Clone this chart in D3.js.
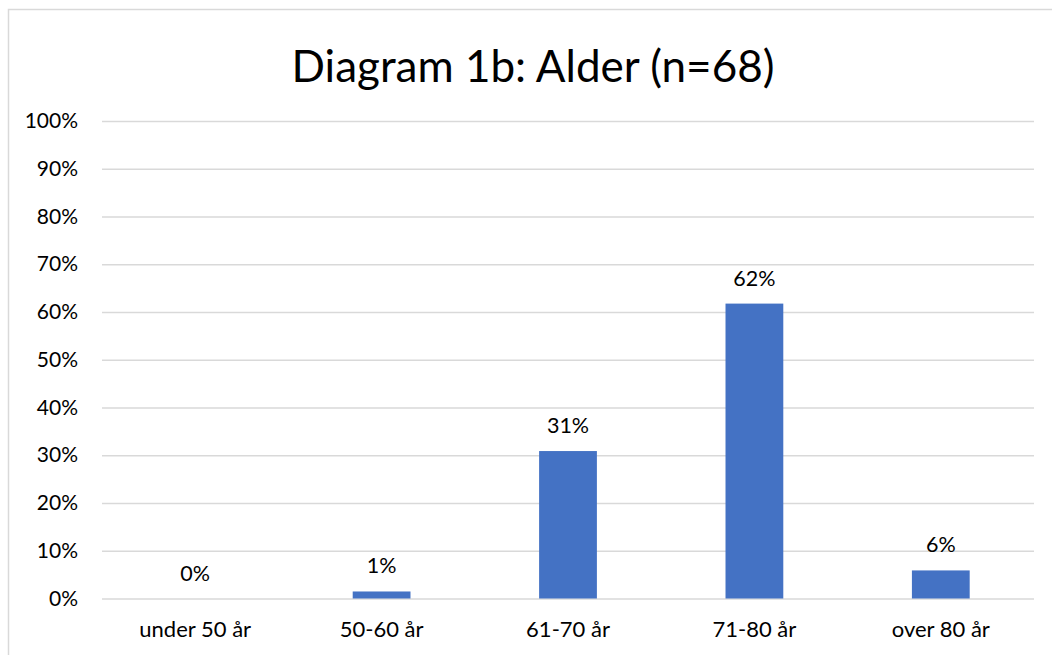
<!DOCTYPE html>
<html>
<head>
<meta charset="utf-8">
<script src="https://cdn.jsdelivr.net/npm/d3@7"></script>
<style>
  body { margin: 0; background: #fff; }
  text { font-family: Lato, "Open Sans", sans-serif; fill: #000; }
</style>
</head>
<body>
<div class="box"></div>
<script>
// data
const categories = ['under 50 år', '50-60 år', '61-70 år', '71-80 år', 'over 80 år'];
const values = [0, 1.47, 30.88, 61.76, 5.88];
const yTicks = [0, 10, 20, 30, 40, 50, 60, 70, 80, 90, 100];
const title = 'Diagram 1b: Alder (n=68)';

const svg = d3.select('.box')
              .append('svg')
              .attr('width', 1052)
              .attr('height', 655)
              .style('display', 'block')
              .style('background', '#fff');

// chart frame
svg.append('rect')
   .attr('x', 8.5)
   .attr('y', 9.5)
   .attr('width', 1100)
   .attr('height', 700)
   .attr('fill', 'none')
   .attr('stroke', '#d9d9d9')
   .attr('stroke-width', 1.5);

// Dimensions
const margin = {top: 121, left: 102};
const graphWidth = 1034 - margin.left;
const graphHeight = 598.5 - margin.top;

const graph = svg.append('g')
                 .attr('transform', `translate(${margin.left}, ${margin.top})`);

const x = d3.scaleBand()
            .domain(categories)
            .range([0, graphWidth])
            .paddingInner(0.69)
            .paddingOuter(0.345);

const y = d3.scaleLinear()
            .domain([0, 100])
            .range([graphHeight, 0]);

// gridlines + y labels
const axeY = d3.axisLeft(y)
               .tickValues(yTicks)
               .tickSize(-graphWidth)
               .tickPadding(24)
               .tickFormat(d => d + '%');

const groupeY = graph.append('g').call(axeY);
groupeY.select('.domain').remove();
groupeY.selectAll('line').attr('stroke', '#d9d9d9').attr('stroke-width', 1.3);
groupeY.selectAll('text')
       .attr('font-size', 21)
       .attr('font-family', 'Lato, sans-serif')
       .attr('fill', '#000');

// x labels
const axeX = d3.axisBottom(x).tickSize(0).tickPadding(23);
const groupeX = graph.append('g')
                     .attr('transform', `translate(0, ${graphHeight})`)
                     .call(axeX);
groupeX.select('.domain').remove();
groupeX.selectAll('text')
       .attr('font-size', 22)
       .attr('font-family', 'Lato, sans-serif')
       .attr('fill', '#000');

// bars
graph.selectAll('rect.bar')
     .data(values)
     .enter()
     .append('rect')
     .attr('class', 'bar')
     .attr('x', (d, i) => x(categories[i]))
     .attr('y', d => y(d))
     .attr('width', x.bandwidth())
     .attr('height', d => graphHeight - y(d))
     .attr('fill', '#4472c4');

// value labels
graph.selectAll('text.val')
     .data(values)
     .enter()
     .append('text')
     .attr('class', 'val')
     .attr('x', (d, i) => x(categories[i]) + x.bandwidth() / 2)
     .attr('y', d => y(d) - 18)
     .attr('text-anchor', 'middle')
     .attr('font-size', 21.5)
     .text(d => Math.round(d) + '%');

// title
svg.append('text')
   .attr('x', 533)
   .attr('y', 82)
   .attr('text-anchor', 'middle')
   .attr('font-size', 44)
   .text(title);
</script>
</body>
</html>
